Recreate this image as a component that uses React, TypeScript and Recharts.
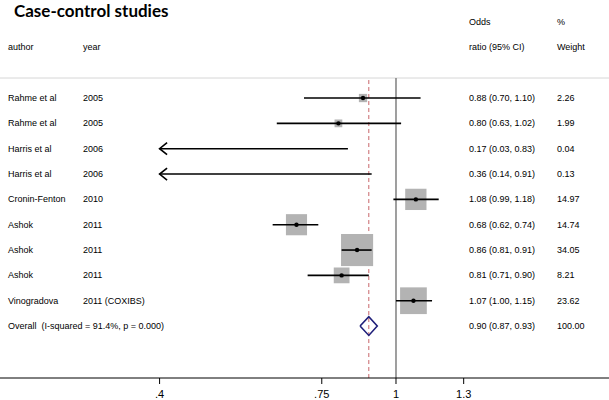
import React from 'react';
import { ComposedChart, XAxis, YAxis, Scatter, ReferenceLine } from 'recharts';

// ---- data ----
const authors = ['Rahme et al', 'Rahme et al', 'Harris et al', 'Harris et al', 'Cronin-Fenton', 'Ashok', 'Ashok', 'Ashok', 'Vinogradova'];
const years = ['2005', '2005', '2006', '2006', '2010', '2011', '2011', '2011', '2011 (COXIBS)'];
const oddsRatios = [0.88, 0.8, 0.17, 0.36, 1.08, 0.68, 0.86, 0.81, 1.07];
const ciLower = [0.7, 0.63, 0.03, 0.14, 0.99, 0.62, 0.81, 0.71, 1.0];
const ciUpper = [1.1, 1.02, 0.83, 0.91, 1.18, 0.74, 0.91, 0.9, 1.15];
const weights = [2.26, 1.99, 0.04, 0.13, 14.97, 14.74, 34.05, 8.21, 23.62];
const overallLabel = 'Overall  (I-squared = 91.4%, p = 0.000)';
const overallOR = [0.9, 0.87, 0.93]; // estimate, lower, upper
const overallWeight = '100.00';
const tickValues = [0.4, 0.75, 1, 1.3];
const tickLabels = ['.4', '.75', '1', '1.3'];
const nullValue = 1;

// ---- layout / style constants ----
const W = 609;
const H = 400;
const X_DOMAIN: [number, number] = [0.2155, 2.2832];
const Y_DOMAIN: [number, number] = [-2.869, 12.05];
const CLIP_MIN = tickValues[0];
const CLIP_MAX = tickValues[tickValues.length - 1];
const FONT = '"Liberation Sans", Arial, sans-serif';
const COL_AUTHOR = 8;
const COL_YEAR = 83;
const COL_OR = 469;
const COL_WEIGHT = 557;
const BOX_SCALE = 5.5;
const DIAMOND_HALF = 0.37;
const SEP_Y = 0.21;

const fmt = (v: number) => v.toFixed(2);

const studyRows = authors.map((a, i) => ({
  x: nullValue,
  y: i + 1,
  author: a,
  year: years[i],
  orText: `${fmt(oddsRatios[i])} (${fmt(ciLower[i])}, ${fmt(ciUpper[i])})`,
  wText: fmt(weights[i]),
}));

const textRows = [
  { x: nullValue, y: -2, author: '', year: '', orText: 'Odds', wText: '%' },
  { x: nullValue, y: -1, author: 'author', year: 'year', orText: 'ratio (95% CI)', wText: 'Weight' },
  ...studyRows,
  {
    x: nullValue,
    y: authors.length + 1,
    author: overallLabel,
    year: '',
    orText: `${fmt(overallOR[0])} (${fmt(overallOR[1])}, ${fmt(overallOR[2])})`,
    wText: overallWeight,
  },
];

const boxes = oddsRatios
  .map((v, i) => ({ x: v, y: i + 1, w: weights[i] }))
  .filter((d) => d.x >= CLIP_MIN && d.x <= CLIP_MAX);

const ciSegments = oddsRatios.map((_, i) => [
  { x: Math.max(ciLower[i], CLIP_MIN), y: i + 1, arrow: ciLower[i] < CLIP_MIN },
  { x: Math.min(ciUpper[i], CLIP_MAX), y: i + 1, arrow: false },
]);

const overallRow = authors.length + 1;
const diamond = [
  { x: overallOR[1], y: overallRow },
  { x: overallOR[0], y: overallRow - DIAMOND_HALF },
  { x: overallOR[2], y: overallRow },
  { x: overallOR[0], y: overallRow + DIAMOND_HALF },
  { x: overallOR[1], y: overallRow },
];

const TextShape = (props: any) => {
  const { cy, payload } = props;
  const common = { fontSize: 9, fontFamily: FONT, fill: '#000', dominantBaseline: 'central' as const };
  return (
    <g>
      {payload.author ? <text x={COL_AUTHOR} y={cy} {...common} style={{ whiteSpace: 'pre' }}>{payload.author}</text> : null}
      {payload.year ? <text x={COL_YEAR} y={cy} {...common}>{payload.year}</text> : null}
      <text x={COL_OR} y={cy} {...common}>{payload.orText}</text>
      <text x={COL_WEIGHT} y={cy} {...common}>{payload.wText}</text>
    </g>
  );
};

const BoxShape = (props: any) => {
  const { cx, cy, payload } = props;
  const s = BOX_SCALE * Math.sqrt(payload.w);
  return <rect x={cx - s / 2} y={cy - s / 2} width={s} height={s} fill="#b3b3b3" />;
};

const DotShape = (props: any) => {
  const { cx, cy } = props;
  return <circle cx={cx} cy={cy} r={2.2} fill="#000" />;
};

const CiEndShape = (props: any) => {
  const { cx, cy, payload } = props;
  if (!payload.arrow) return <g />;
  return (
    <path
      d={`M${cx + 7.5},${cy - 6} L${cx},${cy} L${cx + 7.5},${cy + 6}`}
      fill="none"
      stroke="#000"
      strokeWidth={1.6}
    />
  );
};

const EmptyShape = () => <g />;

export default function App() {
  return (
    <div style={{ position: 'absolute', left: 0, top: 0, width: W, height: H, background: '#fff' }}>
      <div
        style={{
          position: 'absolute',
          left: 14,
          top: 0,
          fontFamily: 'Lato, "Open Sans", sans-serif',
          fontWeight: 700,
          fontSize: 17,
          lineHeight: '22px',
          color: '#000',
          zIndex: 2,
        }}
      >
        Case-control studies
      </div>
      <ComposedChart width={W} height={H} margin={{ top: 0, right: 0, bottom: 0, left: 0 }}>
        <XAxis
          type="number"
          dataKey="x"
          scale="log"
          domain={X_DOMAIN}
          allowDataOverflow
          ticks={tickValues}
          interval={0}
          tickFormatter={(v: number) => tickLabels[tickValues.indexOf(v)] ?? String(v)}
          height={22}
          tickSize={6}
          tickMargin={6}
          axisLine={{ stroke: '#000', strokeWidth: 1 }}
          tickLine={{ stroke: '#000', strokeWidth: 1 }}
          tick={{ fontSize: 11, fill: '#000', fontFamily: FONT }}
        />
        <YAxis type="number" dataKey="y" domain={Y_DOMAIN} reversed hide allowDataOverflow />
        <ReferenceLine y={SEP_Y} stroke="#d6d6d6" strokeWidth={1} ifOverflow="visible" />
        <ReferenceLine
          segment={[{ x: nullValue, y: SEP_Y }, { x: nullValue, y: Y_DOMAIN[1] }]}
          stroke="#7f7f7f"
          strokeWidth={1.5}
          ifOverflow="visible"
        />
        <ReferenceLine
          segment={[{ x: overallOR[0], y: SEP_Y + 0.08 }, { x: overallOR[0], y: Y_DOMAIN[1] }]}
          stroke="#c8666a"
          strokeWidth={1}
          strokeDasharray="4 3"
          ifOverflow="visible"
        />
        <Scatter data={textRows} shape={TextShape} isAnimationActive={false} />
        <Scatter data={boxes} shape={BoxShape} isAnimationActive={false} />
        {ciSegments.map((seg, i) => (
          <Scatter
            key={i}
            data={seg}
            line={{ stroke: '#000', strokeWidth: 1.6 }}
            lineType="joint"
            shape={CiEndShape}
            isAnimationActive={false}
          />
        ))}
        <Scatter data={boxes} shape={DotShape} isAnimationActive={false} />
        <Scatter
          data={diamond}
          line={{ stroke: '#1f1f7a', strokeWidth: 1.6 }}
          lineType="joint"
          shape={EmptyShape}
          isAnimationActive={false}
        />
      </ComposedChart>
    </div>
  );
}
